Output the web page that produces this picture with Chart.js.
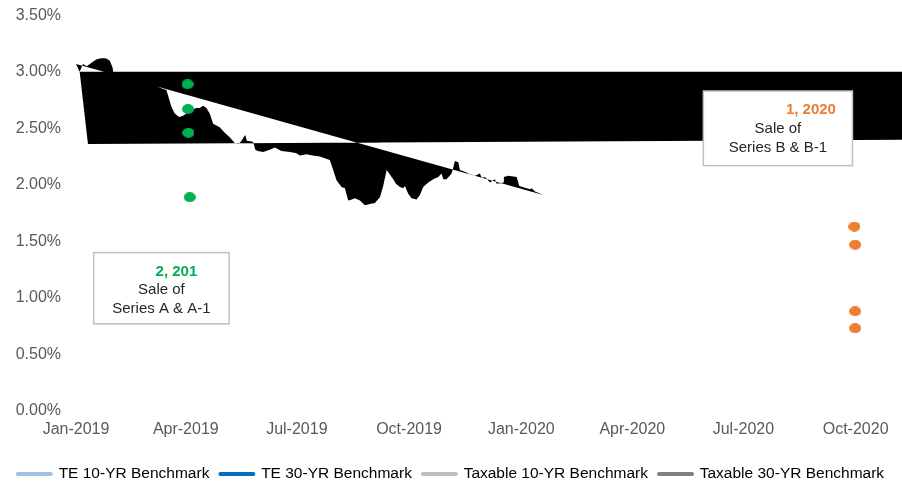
<!DOCTYPE html>
<html>
<head>
<meta charset="utf-8">
<script src="https://cdn.jsdelivr.net/npm/chart.js@4.4.1/dist/chart.umd.min.js"></script>
<style>
  html, body { margin: 0; padding: 0; background: #fff; }
  #wrap { width: 902px; height: 484px; position: relative; }
</style>
</head>
<body>
<div id="wrap"><canvas id="benchChart"></canvas></div>
<script>
// x values are days counted from 1 Jan 2019
var tickDays = [0, 90, 181, 273, 365, 456, 547, 639];
var tickLabels = ['Jan-2019', 'Apr-2019', 'Jul-2019', 'Oct-2019', 'Jan-2020', 'Apr-2020', 'Jul-2020', 'Oct-2020'];

var seriesNames = ['TE 10-YR Benchmark', 'TE 30-YR Benchmark', 'Taxable 10-YR Benchmark', 'Taxable 30-YR Benchmark'];
var seriesColors = ['#9DC3E6', '#0070C0', '#BFBFBF', '#7F7F7F'];

// early part of the benchmark, above 3% (the export drew it filled black)
var peakDays = [0, 5.7, 8.8, 13.9, 17, 20.8, 24.4, 27.6, 29.9, 30.5, 23];
var peakYields = [3.07, 3.07, 3.05, 3.09, 3.11, 3.12, 3.12, 3.10, 3.04, 3.00, 3.00];

// rest of the benchmark, Mar-2019 to Jan-2020
var traceDays = [66.4, 71.1, 74.1, 76.3, 78.2, 80.9, 84.5, 87.8, 90.5, 94.1, 98.7, 101.4, 104.2, 106.9, 109.6, 112.4,
  117.8, 121.9, 126, 130.1, 131.5, 132.8, 135.1, 137.5, 138.8, 140, 145.1, 147, 149, 153.4, 158.8, 163, 168.4,
  175.3, 180.7, 183.4, 188.9, 194.1, 199.8, 208, 210.8, 213.5, 217.6, 220.4, 223.1, 226.1, 228.6, 232.7,
  236.8, 240.9, 245, 249.1, 251.8, 254.6, 255.9, 260, 262.2, 265.5, 268.2, 269.6, 272.3, 275, 279.1,
  281.9, 284.6, 288.7, 292.8, 296.9, 299.6, 301, 303.7, 307.9, 309.2, 310.6, 313.3, 314.7, 319.6, 321.5,
  327, 331.1, 332.5, 335.2, 337, 339.3, 342, 343.4, 344.8, 350.2, 350.7, 354.3, 361.2, 363.3, 369.4,
  372.1, 373.5, 376.2, 383];
var traceYields = [2.869, 2.85, 2.84, 2.76, 2.69, 2.63, 2.60, 2.61, 2.63, 2.66, 2.68, 2.68, 2.70, 2.68, 2.63, 2.54,
  2.51, 2.46, 2.42, 2.37, 2.367, 2.36, 2.38, 2.42, 2.44, 2.39, 2.38, 2.31, 2.30, 2.29, 2.31, 2.33, 2.30,
  2.29, 2.28, 2.26, 2.27, 2.26, 2.25, 2.22, 2.13, 2.04, 1.98, 1.97, 1.86, 1.87, 1.88, 1.86,
  1.82, 1.83, 1.84, 1.89, 1.99, 2.13, 2.11, 2.05, 2.01, 1.98, 1.97, 1.99, 1.92, 1.88, 1.87,
  1.91, 1.98, 2.02, 2.05, 2.07, 2.10, 2.05, 2.05, 2.10, 2.15, 2.21, 2.20, 2.13, 2.11, 2.10,
  2.08, 2.10, 2.06, 2.07, 2.05, 2.02, 2.04, 2.05, 2.01, 2.02, 2.07, 2.08, 2.07, 1.99, 1.97,
  1.96, 1.97, 1.94, 1.91];
var bandJoinDay = 131.5; // where the trace crosses the band's lower edge

// the band the export left behind, corners clockwise
var bandDays = [3, 700, 700, 9.8];
var bandYields = [3.00, 3.00, 2.40, 2.36];

// sale points
var saleADays = [91.4, 91.8, 92.2, 93.2];
var saleAYields = [2.89, 2.67, 2.46, 1.89];
var saleBDays = [638, 638.6, 638.6, 638.6];
var saleBYields = [1.63, 1.47, 0.88, 0.73];

var notes = [
  { left: 14.5, right: 125.5, top: 1.40, bottom: 0.77, head: '2, 201', headColor: '#00B050', headShift: 15, lines: ['Sale of', 'Series A & A-1'] },
  { left: 514.2, right: 636.4, top: 2.83, bottom: 2.17, head: '1, 2020', headColor: '#ED7D31', headShift: 33, lines: ['Sale of', 'Series B & B-1'] }
];

var FONT = '"Liberation Sans", Arial, sans-serif';

function toPoints(xs, ys) {
  return xs.map(function(x, i) { return { x: x, y: ys[i] }; });
}

// one closed path, like the broken export: peak, band and trace loops share corners
function buildShape() {
  var peak = toPoints(peakDays, peakYields);
  var band = toPoints(bandDays, bandYields);
  var trace = toPoints(traceDays, traceYields);
  var j = traceDays.indexOf(bandJoinDay);
  var pts = [peak[0], band[0], band[1], band[2]];
  pts = pts.concat(trace.slice(j));          // join point to the end of the trace
  pts = pts.concat(trace.slice(0, j + 1));   // straight back to its start, then down to the join
  pts.push(band[3], band[0]);
  pts = pts.concat(peak.slice(1));
  return pts;
}

function dotImage(color) {
  var c = document.createElement('canvas');
  c.width = 12; c.height = 10;
  var g = c.getContext('2d');
  g.fillStyle = color;
  g.beginPath();
  g.ellipse(6, 5, 6, 5, 0, 0, Math.PI * 2);
  g.fill();
  return c;
}

var notePlugin = {
  id: 'saleNotes',
  afterDatasetsDraw: function(chart) {
    var ctx = chart.ctx, xs = chart.scales.x, ys = chart.scales.y;
    notes.forEach(function(n) {
      var l = xs.getPixelForValue(n.left), r = xs.getPixelForValue(n.right);
      var t = ys.getPixelForValue(n.top), b = ys.getPixelForValue(n.bottom);
      var cx = (l + r) / 2;
      ctx.save();
      ctx.fillStyle = '#fff';
      ctx.fillRect(l, t, r - l, b - t);
      ctx.strokeStyle = '#BFBFBF';
      ctx.lineWidth = 1.5;
      ctx.strokeRect(l, t, r - l, b - t);
      ctx.textAlign = 'center';
      ctx.textBaseline = 'middle';
      ctx.font = 'bold 15px ' + FONT;
      ctx.fillStyle = n.headColor;
      ctx.fillText(n.head, cx + n.headShift, t + 19);
      ctx.font = '15px ' + FONT;
      ctx.fillStyle = '#262626';
      ctx.fillText(n.lines[0], cx, t + 37.5);
      ctx.fillText(n.lines[1], cx, t + 56.5);
      ctx.restore();
    });
  }
};

var ctx = document.getElementById('benchChart').getContext('2d');
var chart = new Chart(ctx, {
  type: 'scatter',
  data: {
    datasets: [
      { label: seriesNames[0], data: [], borderColor: seriesColors[0] },
      { label: seriesNames[1], data: [], borderColor: seriesColors[1] },
      { label: seriesNames[2], data: [], borderColor: seriesColors[2] },
      {
        label: seriesNames[3],
        data: buildShape(),
        showLine: true,
        fill: 'shape',
        backgroundColor: '#000000',
        borderWidth: 0,
        pointRadius: 0,
        order: 2
      },
      {
        label: 'Sale A',
        data: toPoints(saleADays, saleAYields),
        pointStyle: dotImage('#00B050'),
        pointRadius: 6,
        order: 1
      },
      {
        label: 'Sale B',
        data: toPoints(saleBDays, saleBYields),
        pointStyle: dotImage('#ED7D31'),
        pointRadius: 6,
        order: 1
      }
    ]
  },
  options: {
    responsive: true,
    maintainAspectRatio: false,
    animation: false,
    events: [],
    layout: { autoPadding: false, padding: { top: 15.3, right: 0, bottom: -7.8, left: 0 } },
    scales: {
      x: {
        type: 'linear',
        min: 0,
        max: 677,
        grid: { display: false, drawTicks: false },
        border: { display: false },
        afterBuildTicks: function(scale) {
          scale.ticks = tickDays.map(function(d) { return { value: d }; });
        },
        afterFit: function(scale) { scale.height = 44.5; },
        ticks: {
          autoSkip: false,
          maxRotation: 0,
          padding: 9,
          color: '#595959',
          font: { family: FONT, size: 16 },
          callback: function(v, i) { return tickLabels[i]; }
        }
      },
      y: {
        min: 0,
        max: 3.5,
        grid: { display: false, drawTicks: true, tickLength: 15 },
        border: { display: false },
        afterFit: function(scale) { scale.width = 76; },
        ticks: {
          stepSize: 0.5,
          padding: 0,
          color: '#595959',
          font: { family: FONT, size: 16 },
          callback: function(v) { return v.toFixed(2) + '%'; }
        }
      }
    },
    plugins: {
      tooltip: { enabled: false },
      legend: {
        position: 'bottom',
        labels: {
          usePointStyle: true,
          pointStyleWidth: 33,
          padding: 11,
          color: '#595959',
          font: { family: FONT, size: 15.5 },
          generateLabels: function() {
            return seriesNames.map(function(name, i) {
              return {
                text: name,
                fillStyle: seriesColors[i],
                strokeStyle: seriesColors[i],
                lineWidth: 4,
                lineCap: 'round',
                pointStyle: 'line',
                hidden: false,
                datasetIndex: i
              };
            });
          }
        }
      }
    }
  },
  plugins: [notePlugin]
});
</script>
</body>
</html>
